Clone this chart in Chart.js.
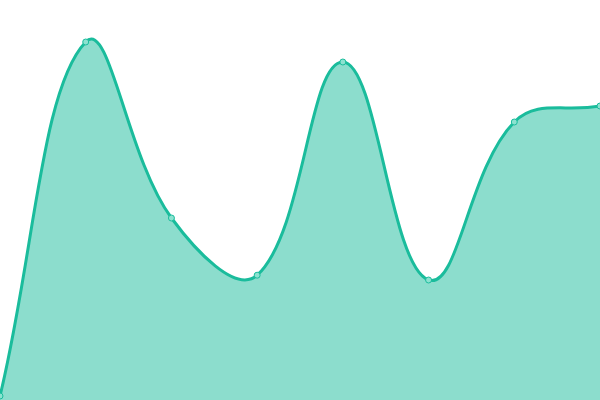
<!DOCTYPE html>
<html>
<head>
<meta charset="utf-8">
<script src="https://cdn.jsdelivr.net/npm/chart.js@4"></script>
<style>
  html, body { margin: 0; padding: 0; background: #fff; }
  #wrap { width: 600px; height: 400px; }
</style>
</head>
<body>
<div id="wrap"><canvas id="chart"></canvas></div>
<script>
// categories along x, one value per point
const labels = ["1", "2", "3", "4", "5", "6", "7", "8"];
const values = [1, 89.5, 45.5, 31.2, 84.5, 30, 69.5, 73.5];

const lineColor = "rgb(26, 188, 156)";

new Chart(document.getElementById("chart"), {
    type: "line",
    data: {
        labels: labels,
        datasets: [{
            data: values,
            borderColor: lineColor,
            borderWidth: 3,
            backgroundColor: "rgba(26, 188, 156, 0.5)",
            fill: "origin",
            tension: 0.4,
            pointRadius: 3,
            pointBorderWidth: 1,
            pointBackgroundColor: "rgba(140, 226, 208, 1)",
            pointBorderColor: lineColor
        }]
    },
    options: {
        responsive: true,
        maintainAspectRatio: false,
        animation: false,
        layout: { padding: 0, autoPadding: false },
        plugins: { legend: { display: false }, tooltip: { enabled: false } },
        scales: {
            x: { display: false },
            y: { display: false, min: 0, max: 100 }
        }
    }
});
</script>
</body>
</html>
